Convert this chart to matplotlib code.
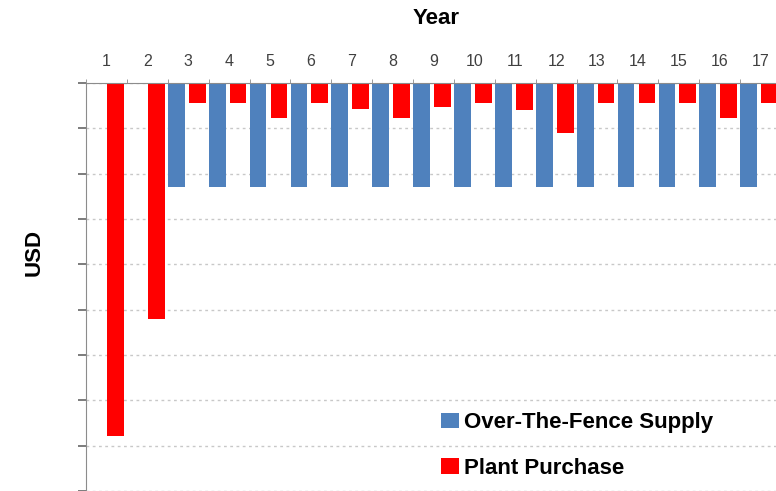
import numpy as np
import matplotlib
matplotlib.use('Agg')
import matplotlib.pyplot as plt

# values in grid units (one dashed gridline step = 1)
years = list(range(1, 18))
fence_supply = [0, 0] + [-2.29] * 15
plant_purchase = [-7.79, -5.21, -0.45, -0.45, -0.78, -0.45, -0.58, -0.78, -0.54,
                  -0.45, -0.60, -1.11, -0.45, -0.45, -0.45, -0.78, -0.45]
grid_steps = list(range(0, -10, -1))

BLUE = '#4F81BD'
RED = '#FF0000'
AXIS_GREY = '#8c8c8c'

plt.rcParams['font.family'] = ['Liberation Sans', 'DejaVu Sans']

fig = plt.figure(figsize=(7.76, 4.91), dpi=100)
W, H = 776, 491
left, right, top, bottom = 86, 781, 83, 491
ax = fig.add_axes([left / W, 1 - bottom / H, (right - left) / W, (bottom - top) / H])

x = np.array(years)
bw = 0.41
ax.bar(x - 0.29, fence_supply, width=bw, color=BLUE, label='Over-The-Fence Supply', zorder=3)
ax.bar(x + 0.22, plant_purchase, width=bw, color=RED, label='Plant Purchase', zorder=3)

ax.set_xlim(0.5, 17.5)
ax.set_ylim(-9, 0)

# x axis on top
ax.xaxis.tick_top()
ax.set_xticks(years)
ax.set_xticklabels([str(y) for y in years], fontsize=11.5, color='#404040')
ax.tick_params(axis='x', which='major', length=0, pad=10)
ax.set_xticks(np.arange(0.5, 17.5, 1), minor=True)
ax.tick_params(axis='x', which='minor', length=3, direction='out', color=AXIS_GREY)

ax.set_yticks(grid_steps)
ax.set_yticklabels([])
ax.tick_params(axis='y', length=6, width=1.2, direction='out', color='#666666')

ax.yaxis.grid(True, linestyle=(0, (2, 2.5)), color='#c8c8c8', linewidth=1, zorder=0)

for s in ['right', 'bottom']:
    ax.spines[s].set_visible(False)
ax.spines['top'].set_color(AXIS_GREY)
ax.spines['left'].set_color(AXIS_GREY)
ax.spines['top'].set_zorder(4)

fig.text(436 / W, 1 - 19 / H, 'Year', fontsize=16, fontweight='bold', ha='center', va='center')
fig.text(34 / W, 1 - 252 / H, 'USD', fontsize=16, fontweight='bold', rotation=90,
         ha='center', va='center')

ax.legend(loc='upper left', bbox_to_anchor=(441 / W, 1 - 412 / H),
          bbox_transform=fig.transFigure, frameon=False,
          prop={'weight': 'bold', 'size': 16}, handlelength=0.8, handleheight=0.68,
          handletextpad=0.22, labelspacing=1.12, borderpad=0, borderaxespad=0)

fig.savefig('out.png', dpi=100)
